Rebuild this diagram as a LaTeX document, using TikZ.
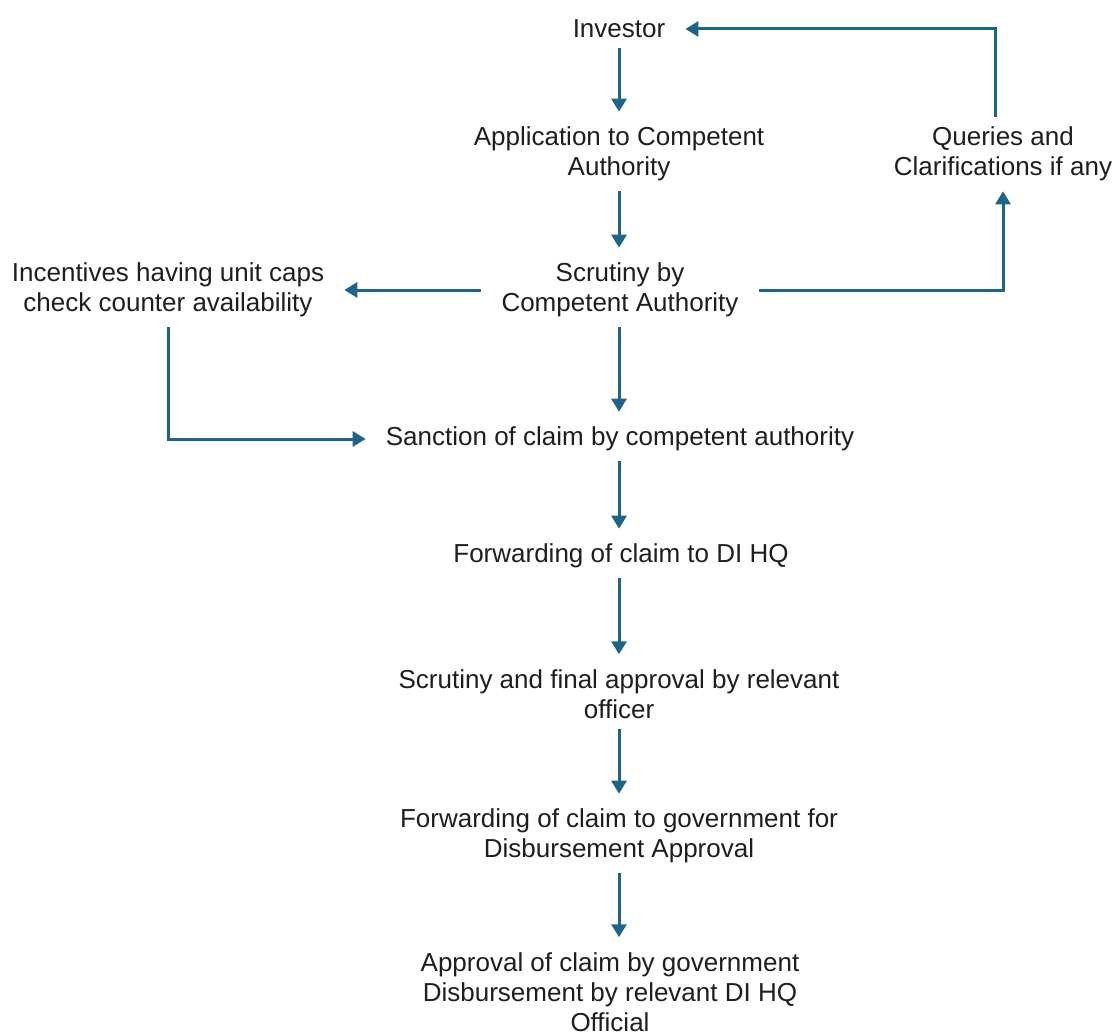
\documentclass[tikz,border=0pt]{standalone}
\usepackage{fontspec}
\setmainfont{Liberation Sans}
\usetikzlibrary{arrows.meta}
\definecolor{flowblue}{RGB}{30,100,135}
\definecolor{inkgray}{RGB}{30,30,30}
\begin{document}
\begin{tikzpicture}[x=1pt,y=-1pt,
  stage/.style = {align=center,font=\fontsize{26}{30}\selectfont,text=inkgray,inner xsep=20pt,inner ysep=10pt},
  flow/.style = {draw=flowblue,line width=3pt,-{Triangle[length=13pt,width=15pt]}},
  down/.style = {flow,shorten >=5pt}]
\useasboundingbox (0,0) rectangle (1119,1035);
% main column
\node[stage] (inv) at (619,29) {Investor};
\node[stage] (app) at (619,154) {Application to Competent\\Authority};
\node[stage] (scr) at (620,290) {Scrutiny by\\Competent Authority};
\node[stage] (sanc) at (620,439) {Sanction of claim by competent authority};
\node[stage] (fwd) at (621,556) {Forwarding of claim to DI HQ};
\node[stage] (fin) at (619,694) {Scrutiny and final approval by relevant\\officer};
\node[stage] (gov) at (619,836) {Forwarding of claim to government for\\Disbursement Approval};
\node[stage] (apr) at (610,992) {Approval of claim by government\\Disbursement by relevant DI HQ\\Official};
% side branches
\node[stage] (inc) at (168,290) {Incentives having unit caps\\check counter availability};
\node[stage] (qry) at (1003,154) {Queries and\\Clarifications if any};
% connectors
\draw[down] (inv) -- (inv |- app.north);
\draw[down] (app) -- (app |- scr.north);
\draw[down] (app |- scr.south) -- (app |- sanc.north);
\draw[down] (app |- sanc.south) -- (app |- fwd.north);
\draw[down] (app |- fwd.south) -- (app |- fin.north);
\draw[down] (fin) -- (fin |- gov.north);
\draw[down] (gov) -- (gov |- apr.north);
\draw[flow] (scr) -- (inc);
\draw[flow] (inc) |- (sanc);
\draw[flow] (scr) -| (qry);
\draw[flow] ([xshift=-8pt]qry.north) |- (inv);
\end{tikzpicture}
\end{document}
